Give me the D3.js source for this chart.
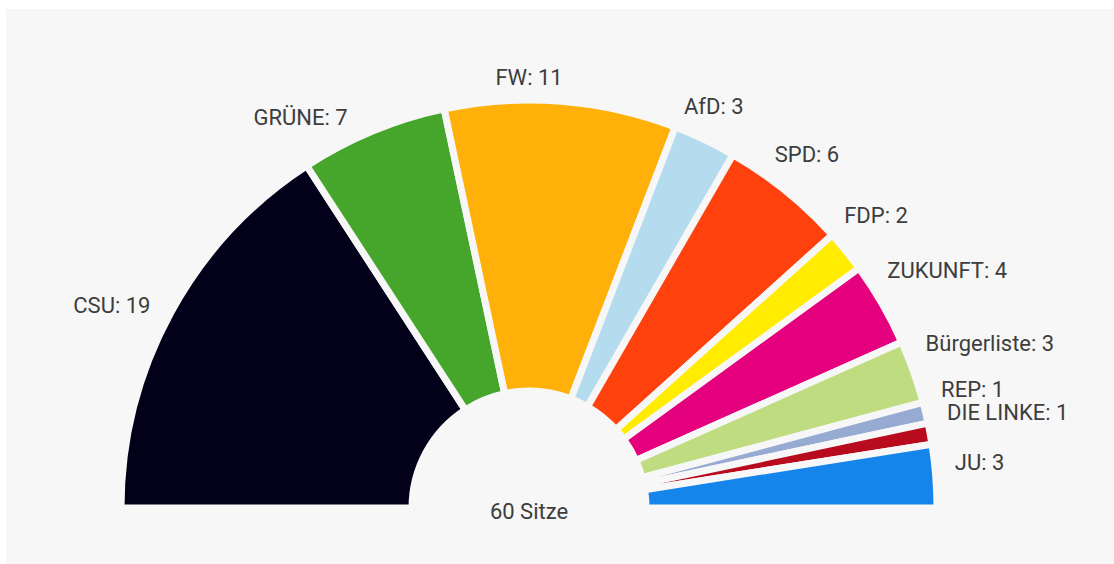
<!DOCTYPE html>
<html>
<head>
<meta charset="utf-8">
<script src="https://cdn.jsdelivr.net/npm/d3@7"></script>
<style>
  html, body { margin: 0; padding: 0; background: #fff; }
  svg { display: block; }
</style>
</head>
<body>
<div id="chart"></div>
<script>
const parties = ["CSU", "GRÜNE", "FW", "AfD", "SPD", "FDP", "ZUKUNFT", "Bürgerliste", "REP", "DIE LINKE", "JU"];
const seats = [19, 7, 11, 3, 6, 2, 4, 3, 1, 1, 3];
const colors = ["#03001a", "#46a62b", "#ffb10a", "#b5dcee", "#ff410d", "#ffec00", "#e5007d", "#c0dc80", "#97aad2", "#b80c1e", "#1685eb"];
const totalLabel = "60 Sitze";

const W = 1114, H = 564;
const cx = 529, cy = 508;
const outerR = 408, innerR = 117;
const labelR = 428;

const svg = d3.select("#chart")
  .append("svg")
  .attr("width", W)
  .attr("height", H);

// grey panel
svg.append("rect")
  .attr("x", 6)
  .attr("y", 9)
  .attr("width", W - 6)
  .attr("height", H - 9)
  .attr("fill", "#f7f7f7");

const data = parties.map((p, i) => ({ party: p, seats: seats[i], color: colors[i] }));

const pie = d3.pie()
  .value(d => d.seats)
  .sort(null)
  .startAngle(-Math.PI / 2)
  .endAngle(Math.PI / 2);

const arc = d3.arc()
  .innerRadius(innerR)
  .outerRadius(outerR);

const g = svg.append("g")
  .attr("transform", `translate(${cx},${cy})`);

const arcs = pie(data);

g.selectAll("path")
  .data(arcs)
  .enter()
  .append("path")
  .attr("d", arc)
  .attr("fill", d => d.data.color)
  .attr("stroke", "#f7f7f7")
  .attr("stroke-width", 7)
  .attr("stroke-linejoin", "miter");

// labels: placed on a circle round the half ring, nudged a bit counter-clockwise
const deg = Math.PI / 180;
function labelPos(d) {
  const mid = (d.startAngle + d.endAngle) / 2;      // -pi/2 .. pi/2, 0 = top
  let theta = (mid / deg) + 90;                      // 0 = left, 180 = right
  const s = Math.sin(theta * deg);
  const off = theta < 90 ? 3 * s * s : 4.5 * Math.sqrt(s);
  theta -= off;
  const x = -labelR * Math.cos(theta * deg);
  const y = -labelR * Math.sin(theta * deg) - 3;
  const anchor = theta < 87 ? "end" : theta > 93 ? "start" : "middle";
  return { x, y, anchor };
}

g.selectAll("text.label")
  .data(arcs)
  .enter()
  .append("text")
  .attr("class", "label")
  .each(function(d) {
    const p = labelPos(d);
    d3.select(this)
      .attr("x", p.x)
      .attr("y", p.y)
      .attr("text-anchor", p.anchor);
  })
  .attr("dominant-baseline", "central")
  .attr("font-family", "Roboto, sans-serif")
  .attr("font-size", "22px")
  .attr("fill", "#3d3d3d")
  .text(d => `${d.data.party}: ${d.data.seats}`);

g.append("text")
  .attr("x", 0)
  .attr("y", 3)
  .attr("text-anchor", "middle")
  .attr("dominant-baseline", "central")
  .attr("font-family", "Roboto, sans-serif")
  .attr("font-size", "22px")
  .attr("fill", "#3d3d3d")
  .text(totalLabel);
</script>
</body>
</html>
